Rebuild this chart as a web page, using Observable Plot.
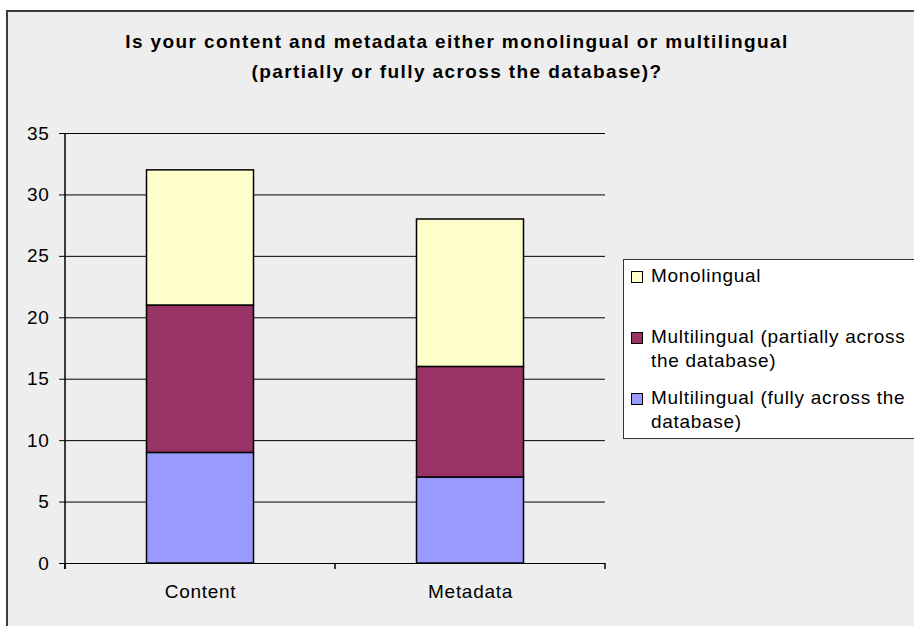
<!DOCTYPE html>
<html><head><meta charset="utf-8">
<script src="https://cdn.jsdelivr.net/npm/d3@7"></script>
<script src="https://cdn.jsdelivr.net/npm/@observablehq/plot@0.6"></script>
<style>
body{margin:0;background:#fff;font-family:Arial,"Liberation Sans",sans-serif;}
#wrap{position:relative;width:914px;height:626px;overflow:hidden;}
#frame{position:absolute;left:6px;top:10px;width:940px;height:660px;border:2px solid #3c3c3c;background:#eeeeee;}
#title{position:absolute;left:0;width:914px;top:27px;text-align:center;font-weight:bold;font-size:19px;letter-spacing:1.4px;line-height:30px;color:#000;}
#chart{position:absolute;left:0;top:0;}
#legend{position:absolute;left:623px;top:259px;width:330px;height:178px;border:1px solid #333;background:#fff;font-size:19px;letter-spacing:0.7px;color:#000;}
.item{position:absolute;left:7px;width:300px;}
.sw{position:absolute;left:0;top:7px;width:10px;height:10px;border:1px solid #000;}
.lab{position:absolute;left:20px;width:270px;line-height:24px;white-space:normal;}
</style></head>
<body>
<div id="wrap">
  <div id="frame"></div>
  <div id="title">Is your content and metadata either monolingual or multilingual<br>(partially or fully across the database)?</div>
  <div id="chart"></div>
  <div id="legend"></div>
</div>
<script>
const categories = ["Content", "Metadata"];
const seriesNames = [
  "Multilingual (fully across the database)",
  "Multilingual (partially across the database)",
  "Monolingual"
];
const fullyValues = [9, 7];
const partialValues = [12, 9];
const monoValues = [11, 12];
const yTicks = [0, 5, 10, 15, 20, 25, 30, 35];
const seriesColors = ["#9999ff", "#993366", "#ffffcc"];

const rows = [];
[fullyValues, partialValues, monoValues].forEach((vals, si) =>
  categories.forEach((c, ci) => rows.push({category: c, series: seriesNames[si], value: vals[ci]}))
);

const chart = Plot.plot({
  width: 914, height: 626,
  marginLeft: 65, marginRight: 309, marginTop: 133, marginBottom: 63,
  style: {background: "transparent", fontFamily: "Arial, 'Liberation Sans', sans-serif", fontSize: "19px", color: "#000", letterSpacing: "0.7px", overflow: "visible"},
  x: {domain: categories, padding: 0, label: null},
  y: {domain: [0, 35], label: null},
  color: {domain: seriesNames, range: seriesColors},
  marks: [
    Plot.ruleY(yTicks, {stroke: "#000", strokeWidth: 1}),
    Plot.barY(rows, {x: "category", y: "value", fill: "series", stroke: "#000", strokeWidth: 1.5, insetLeft: 81.5, insetRight: 81.5}),
    Plot.axisY(yTicks, {tickSize: 6, tickPadding: 10, stroke: "#000", fill: "#000", fontSize: 19}),
    Plot.axisX({tickSize: 0, tickPadding: 21, fill: "#000", fontSize: 19}),
    (index, scales, values, dims) => {
      const {width, height, marginLeft, marginTop, marginBottom} = dims;
      const x = scales.x;
      const g = d3.create("svg:g").attr("stroke", "#000").attr("stroke-width", 1.5);
      const y0 = height - marginBottom;
      g.append("line").attr("x1", marginLeft).attr("x2", marginLeft).attr("y1", marginTop).attr("y2", y0 + 6);
      const bw = x(categories[1]) - x(categories[0]);
      const edges = categories.map(c => x(c)).concat([x(categories[categories.length - 1]) + bw]);
      edges.forEach(e => g.append("line").attr("x1", e).attr("x2", e).attr("y1", y0).attr("y2", y0 + 6));
      return g.node();
    }
  ]
});
document.getElementById("chart").appendChild(chart);

// legend (top to bottom: reverse of stacking order)
const legend = d3.select("#legend");
const order = seriesNames.map((n, i) => i).reverse();
order.forEach((si, k) => {
  const it = legend.append("div").attr("class", "item").style("top", (4 + k * 61) + "px");
  it.append("div").attr("class", "sw").style("background", seriesColors[si]);
  it.append("div").attr("class", "lab").text(seriesNames[si]);
});
</script>
</body></html>
